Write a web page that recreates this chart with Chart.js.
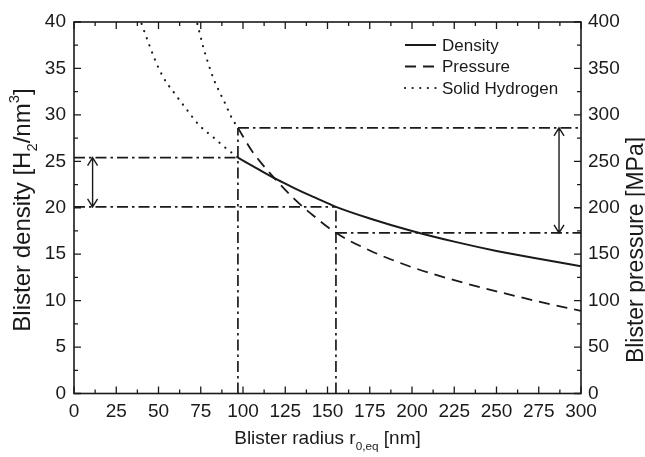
<!DOCTYPE html>
<html>
<head>
<meta charset="utf-8">
<script src="https://cdn.jsdelivr.net/npm/chart.js@4.4.1/dist/chart.umd.min.js"></script>
<style>
html, body { margin: 0; padding: 0; background: #fff; }
#wrap { width: 645px; height: 457px; }
</style>
</head>
<body>
<div id="wrap"><canvas id="chart"></canvas></div>
<script>
// values (radius in nm, density in H2/nm^3, pressure in MPa)
const densityR = [97, 110, 120, 130, 140, 150, 155, 175, 200, 225, 250, 275, 300];
const densityVal = [25.4, 24.05, 23.05, 22.15, 21.3, 20.5, 20.1, 18.85, 17.5, 16.35, 15.35, 14.5, 13.7];
const pressureR = [97, 105, 110, 120, 130, 140, 155, 175, 200, 225, 250, 275, 300];
const pressureVal = [286, 262, 250, 229, 210, 194, 173, 154, 136, 122, 110, 99, 89];
const solidDensR = [40, 44, 48, 53, 60, 67, 74, 83, 88, 97];
const solidDensVal = [39.8, 37.8, 35.9, 34.0, 32.2, 30.5, 28.9, 27.5, 26.7, 25.4];
const solidPresR = [73, 76.5, 79.5, 83, 86, 89, 93, 97];
const solidPresVal = [398, 373, 355, 337, 325, 314, 298, 286];

// dash-dot guide lines, in density units
const guideX = [[0, 97], [0, 155], [97, 97], [155, 155], [97, 300], [155, 300]];
const guideY = [[25.4, 25.4], [20.1, 20.1], [0, 28.6], [0, 20.1], [28.6, 28.6], [17.3, 17.3]];

// double arrows: position, low end, high end
const arrowR = [11, 287];
const arrowLow = [20.1, 17.3];
const arrowHigh = [25.4, 28.6];

const xTicks = [0, 25, 50, 75, 100, 125, 150, 175, 200, 225, 250, 275, 300];
const legendNames = ['Density', 'Pressure', 'Solid Hydrogen'];

const ink = '#1a1a1a';
const FONT = "'Liberation Sans', Arial, Helvetica, sans-serif";
const DASH = [11, 7];
const DOT = [0.1, 7.5];
const DASHDOT = [11, 4, 2.5, 4];

function pts(xs, ys) {
    return xs.map((x, i) => ({x: x, y: ys[i]}));
}

function curve(label, xs, ys, axis, dash, w) {
    return {
        label: label,
        data: pts(xs, ys),
        yAxisID: axis,
        borderColor: ink,
        borderWidth: w,
        borderDash: dash,
        borderCapStyle: dash === DOT ? 'round' : 'butt',
        pointRadius: 0,
        fill: false,
        tension: 0.4,
        cubicInterpolationMode: 'monotone'
    };
}

let datasets = [
    curve('Density', densityR, densityVal, 'y', [], 2),
    curve('Pressure', pressureR, pressureVal, 'y2', DASH, 1.8),
    curve('Solid Hydrogen', solidDensR, solidDensVal, 'y', DOT, 2.2),
    curve('Solid Hydrogen p', solidPresR, solidPresVal, 'y2', DOT, 2.2)
];
guideX.forEach((gx, i) => {
    datasets.push({
        label: 'guide' + i,
        data: pts(gx, guideY[i]),
        yAxisID: 'y',
        borderColor: ink,
        borderWidth: 1.7,
        borderDash: DASHDOT,
        pointRadius: 0,
        tension: 0
    });
});

function richText(ctx, parts, cx, cy, size) {
    // parts: [text, mode] with mode '', 'sub' or 'sup'
    let widths = parts.map(p => {
        ctx.font = (p[1] ? size * 0.62 : size) + 'px ' + FONT;
        return ctx.measureText(p[0]).width;
    });
    let total = widths.reduce((a, b) => a + b, 0);
    let x = cx - total / 2;
    ctx.textBaseline = 'alphabetic';
    ctx.textAlign = 'left';
    parts.forEach((p, i) => {
        ctx.font = (p[1] ? size * 0.62 : size) + 'px ' + FONT;
        let dy = p[1] === 'sub' ? size * 0.3 : (p[1] === 'sup' ? -size * 0.45 : 0);
        ctx.fillText(p[0], x, cy + dy);
        x += widths[i];
    });
}

const decor = {
    id: 'decor',
    afterDatasetsDraw(chart) {
        const ctx = chart.ctx;
        const a = chart.chartArea;
        const sx = chart.scales.x, sy = chart.scales.y, sy2 = chart.scales.y2;
        ctx.save();
        ctx.strokeStyle = ink;
        ctx.fillStyle = ink;

        // frame
        ctx.lineWidth = 1.6;
        ctx.setLineDash([]);
        ctx.strokeRect(a.left, a.top, a.right - a.left, a.bottom - a.top);

        // inward ticks
        ctx.lineWidth = 1.3;
        ctx.beginPath();
        for (let v = 0; v <= 300; v += 12.5) {
            let p = sx.getPixelForValue(v);
            let len = v % 25 === 0 ? 7 : 4;
            ctx.moveTo(p, a.bottom); ctx.lineTo(p, a.bottom - len);
            ctx.moveTo(p, a.top); ctx.lineTo(p, a.top + len);
        }
        for (let v = 0; v <= 40; v += 2.5) {
            let p = sy.getPixelForValue(v);
            ctx.moveTo(a.left, p); ctx.lineTo(a.left + (v % 5 === 0 ? 7 : 4), p);
        }
        for (let v = 0; v <= 400; v += 25) {
            let p = sy2.getPixelForValue(v);
            ctx.moveTo(a.right, p); ctx.lineTo(a.right - (v % 50 === 0 ? 7 : 4), p);
        }
        ctx.stroke();

        // double arrows
        ctx.lineWidth = 1.4;
        arrowR.forEach((r, i) => {
            let x = sx.getPixelForValue(r);
            let y1 = sy.getPixelForValue(arrowLow[i]);
            let y2 = sy.getPixelForValue(arrowHigh[i]);
            ctx.beginPath();
            ctx.moveTo(x, y1); ctx.lineTo(x, y2);
            ctx.moveTo(x - 5, y2 + 8); ctx.lineTo(x, y2); ctx.lineTo(x + 5, y2 + 8);
            ctx.moveTo(x - 5, y1 - 8); ctx.lineTo(x, y1); ctx.lineTo(x + 5, y1 - 8);
            ctx.stroke();
        });

        // legend
        const dashes = [[], DASH, DOT];
        legendNames.forEach((name, i) => {
            let y = 45 + i * 21.5;
            ctx.beginPath();
            ctx.setLineDash(dashes[i]);
            ctx.lineCap = i === 2 ? 'round' : 'butt';
            ctx.lineWidth = i === 2 ? 2.2 : 2;
            ctx.moveTo(405, y); ctx.lineTo(436, y);
            ctx.stroke();
            ctx.setLineDash([]);
            ctx.font = '17px ' + FONT;
            ctx.textAlign = 'left';
            ctx.textBaseline = 'middle';
            ctx.fillText(name, 442, y + 1);
        });

        // axis titles
        richText(ctx, [['Blister radius r', ''], ['0,eq', 'sub'], [' [nm]', '']],
            (a.left + a.right) / 2, 444, 19);
        ctx.save();
        ctx.translate(30, 210);
        ctx.rotate(-Math.PI / 2);
        richText(ctx, [['Blister density [H', ''], ['2', 'sub'], ['/nm', ''], ['3', 'sup'], [']', '']],
            0, 0, 24);
        ctx.restore();
        ctx.save();
        ctx.translate(643, 250);
        ctx.rotate(-Math.PI / 2);
        richText(ctx, [['Blister pressure [MPa]', '']], 0, 0, 23);
        ctx.restore();

        ctx.restore();
    }
};

Chart.defaults.font.family = FONT;
Chart.defaults.color = ink;

new Chart(document.getElementById('chart'), {
    type: 'line',
    data: {datasets: datasets},
    options: {
        responsive: true,
        maintainAspectRatio: false,
        animation: false,
        layout: {padding: {top: 22, left: 0, right: 0, bottom: 0}},
        plugins: {legend: {display: false}, tooltip: {enabled: false}},
        scales: {
            x: {
                type: 'linear', min: 0, max: 300,
                afterBuildTicks: s => { s.ticks = xTicks.map(v => ({value: v})); },
                afterFit: s => { s.height = 63.5; },
                grid: {display: false, drawTicks: false},
                border: {display: false},
                ticks: {font: {size: 19}, padding: 7, maxRotation: 0, color: ink}
            },
            y: {
                type: 'linear', position: 'left', min: 0, max: 40,
                afterFit: s => { s.width = 74; },
                grid: {display: false, drawTicks: false},
                border: {display: false},
                ticks: {stepSize: 5, font: {size: 19}, padding: 8, color: ink}
            },
            y2: {
                type: 'linear', position: 'right', min: 0, max: 400,
                afterFit: s => { s.width = 64; },
                grid: {display: false, drawTicks: false},
                border: {display: false},
                ticks: {stepSize: 50, font: {size: 19}, padding: 7, color: ink}
            }
        }
    },
    plugins: [decor]
});
</script>
</body>
</html>
